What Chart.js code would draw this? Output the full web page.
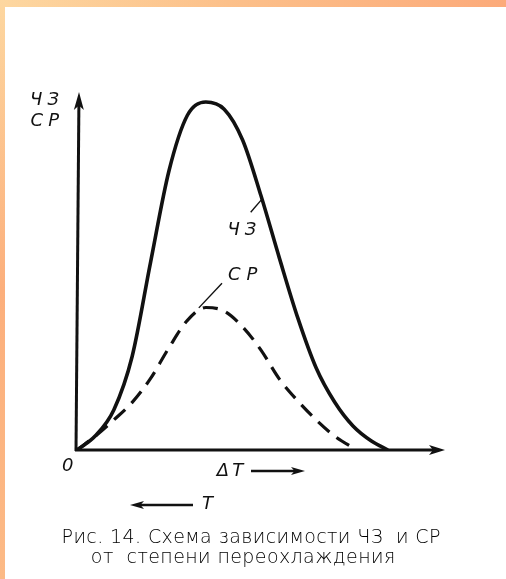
<!DOCTYPE html>
<html>
<head>
<meta charset="utf-8">
<script src="https://cdn.jsdelivr.net/npm/chart.js@4/dist/chart.umd.min.js"></script>
<style>
  html, body { margin: 0; padding: 0; background: #fff; }
  #wrap { position: relative; width: 506px; height: 579px; overflow: hidden; }
  #top { position: absolute; left: 0; top: 0; width: 506px; height: 7px;
         background: linear-gradient(90deg, #fdd7a0 0%, #fcc08a 45%, #fcaa7a 100%); }
  #left { position: absolute; left: 0; top: 0; width: 5px; height: 579px;
          background: linear-gradient(180deg, #fdd7a0 0%, #fcaf7c 50%, #fcba86 100%); }
  canvas { position: absolute; left: 0; top: 0; }
</style>
</head>
<body>
<div id="wrap">
  <canvas id="chart" width="506" height="579"></canvas>
  <div id="top"></div>
  <div id="left"></div>
</div>
<script>
// degree of undercooling (ΔT), arbitrary units
const dT_chz = [0, 0.5, 1.0, 1.5, 2.0, 2.5, 3.0, 3.5, 4.0, 4.5, 5.0, 5.5, 6.0, 6.5, 7.0, 7.5, 8.0, 8.45];
// ЧЗ – number of nuclei
const chz = [0, 0.40, 1.12, 2.62, 5.25, 7.80, 9.35, 9.72, 9.52, 8.66, 7.10, 5.36, 3.69, 2.29, 1.34, 0.67, 0.25, 0];

const dT_sr = [0, 0.5, 1.0, 1.5, 2.0, 2.5, 3.0, 3.5, 4.0, 4.5, 5.0, 5.5, 6.0, 6.5, 7.0, 7.6];
// СР – growth rate
const sr = [0, 0.39, 0.84, 1.33, 2.00, 2.86, 3.62, 3.98, 3.88, 3.44, 2.79, 1.98, 1.37, 0.84, 0.39, 0];

const xMax = 10, yMax = 10;
const ink = '#111';
const italicFont = 'italic 18px "DejaVu Sans", sans-serif';

function spaced(ctx, text, x, y, spacing, align) {
    // canvas letterSpacing is not everywhere, so step glyph by glyph
    let w = 0;
    for (const ch of text) w += ctx.measureText(ch).width + spacing;
    w -= spacing;
    let cx = align === 'right' ? x - w : (align === 'center' ? x - w / 2 : x);
    for (const ch of text) {
        ctx.fillText(ch, cx, y);
        cx += ctx.measureText(ch).width + spacing;
    }
}

function arrow(ctx, x1, y1, x2, y2, len, half) {
    const a = Math.atan2(y2 - y1, x2 - x1);
    ctx.beginPath();
    ctx.moveTo(x1, y1);
    ctx.lineTo(x2 - Math.cos(a) * len * 0.6, y2 - Math.sin(a) * len * 0.6);
    ctx.stroke();
    ctx.beginPath();
    ctx.moveTo(x2, y2);
    ctx.lineTo(x2 - Math.cos(a) * len + Math.sin(a) * half, y2 - Math.sin(a) * len - Math.cos(a) * half);
    ctx.lineTo(x2 - Math.cos(a) * len * 0.75, y2 - Math.sin(a) * len * 0.75);
    ctx.lineTo(x2 - Math.cos(a) * len - Math.sin(a) * half, y2 - Math.sin(a) * len + Math.cos(a) * half);
    ctx.closePath();
    ctx.fill();
}

const schemePlugin = {
    id: 'scheme',
    beforeDatasetsDraw(chart) {
        const ctx = chart.ctx;
        const a = chart.chartArea;
        ctx.save();
        ctx.strokeStyle = ink;
        ctx.fillStyle = ink;
        ctx.lineWidth = 3;
        // axes
        arrow(ctx, a.left - 1, a.bottom + 1, a.left + 2, a.top, 18, 5);
        arrow(ctx, a.left - 2, a.bottom, a.right, a.bottom, 16, 5);
        ctx.restore();
    },
    afterDatasetsDraw(chart) {
        const ctx = chart.ctx;
        const a = chart.chartArea;
        const x = chart.scales.x, y = chart.scales.y;
        ctx.save();
        ctx.fillStyle = ink;
        ctx.strokeStyle = ink;
        ctx.font = italicFont;
        ctx.textBaseline = 'middle';

        // y axis title
        spaced(ctx, 'ЧЗ', a.left - 18, a.top + 8, 5, 'right');
        spaced(ctx, 'СР', a.left - 18, a.top + 29, 5, 'right');
        // origin and x axis titles
        ctx.fillText('0', a.left - 15, a.bottom + 16);
        spaced(ctx, 'ΔT', a.left + 153, a.bottom + 21, 3, 'center');
        ctx.lineWidth = 2.5;
        arrow(ctx, a.left + 174, a.bottom + 21, a.left + 228, a.bottom + 21, 14, 4);
        arrow(ctx, a.left + 116, a.bottom + 55, a.left + 53, a.bottom + 55, 14, 4);
        ctx.fillText('T', a.left + 125, a.bottom + 54);

        // curve labels with leader lines
        ctx.lineWidth = 1.4;
        ctx.beginPath();
        ctx.moveTo(x.getPixelForValue(5.02), y.getPixelForValue(7.0));
        ctx.lineTo(x.getPixelForValue(4.72), y.getPixelForValue(6.64));
        ctx.stroke();
        spaced(ctx, 'ЧЗ', x.getPixelForValue(4.48), y.getPixelForValue(6.14), 5, 'center');

        ctx.beginPath();
        ctx.moveTo(x.getPixelForValue(3.94), y.getPixelForValue(4.66));
        ctx.lineTo(x.getPixelForValue(3.31), y.getPixelForValue(3.97));
        ctx.stroke();
        spaced(ctx, 'СР', x.getPixelForValue(4.5), y.getPixelForValue(4.88), 6, 'center');

        // caption
        ctx.font = '300 19px "DejaVu Sans", sans-serif';
        ctx.fillStyle = '#000';
        spaced(ctx, 'Рис. 14. Схема зависимости ЧЗ  и СР', 251, 538, 0.4, 'center');
        spaced(ctx, 'от  степени переохлаждения', 243, 558, 0.4, 'center');
        ctx.restore();
    }
};

const ctx = document.getElementById('chart').getContext('2d');
const chart = new Chart(ctx, {
    type: 'scatter',
    data: {
        datasets: [{
            label: 'ЧЗ',
            data: dT_chz.map((v, i) => ({ x: v, y: chz[i] })),
            showLine: true,
            borderColor: ink,
            borderWidth: 3.6,
            pointRadius: 0,
            cubicInterpolationMode: 'monotone',
            fill: false
        }, {
            label: 'СР',
            data: dT_sr.map((v, i) => ({ x: v, y: sr[i] })),
            showLine: true,
            borderColor: ink,
            borderWidth: 3.2,
            borderDash: [15, 9],
            pointRadius: 0,
            cubicInterpolationMode: 'monotone',
            fill: false
        }]
    },
    options: {
        responsive: false,
        animation: false,
        events: [],
        layout: { padding: { left: 77, right: 61, top: 92, bottom: 129 } },
        plugins: {
            legend: { display: false },
            tooltip: { enabled: false },
            title: { display: false }
        },
        scales: {
            x: { type: 'linear', min: 0, max: xMax, display: false },
            y: { type: 'linear', min: 0, max: yMax, display: false }
        }
    },
    plugins: [schemePlugin]
});
</script>
</body>
</html>
